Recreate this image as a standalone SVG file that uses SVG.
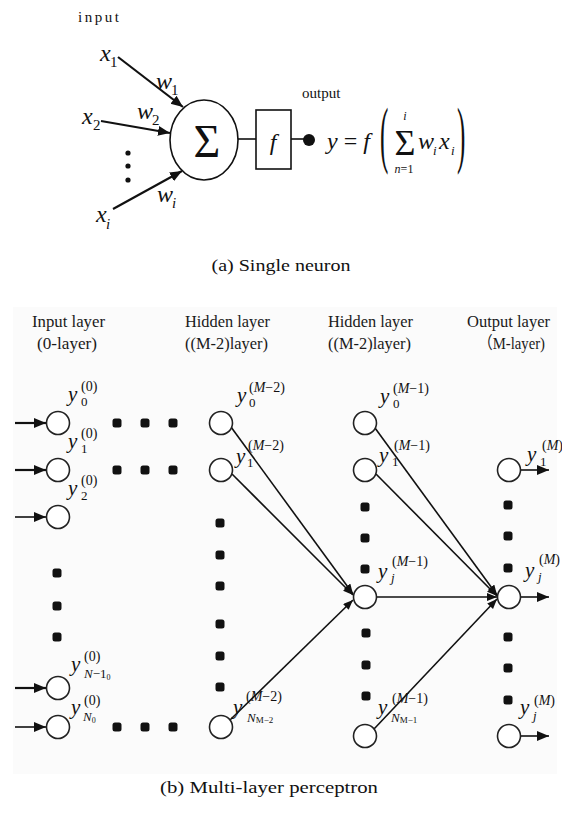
<svg xmlns="http://www.w3.org/2000/svg" width="562" height="818" viewBox="0 0 562 818" font-family="'Liberation Serif', 'DejaVu Serif', serif">
  <style>
    text { font-family: "Liberation Serif", "DejaVu Serif", serif; fill: #111; }
    .it { font-style: italic; }
    .cap { font-size: 17px; text-anchor: middle; }
    .hdr { font-size: 17px; text-anchor: middle; fill: #1a1a1a; }
    .xv { font-size: 24px; font-style: italic; }
    .xs { font-size: 15px; }
    .var { font-size: 21px; font-style: italic; }
    .sup { font-size: 14px; }
    .sub { font-size: 13px; }
    .neuron { fill: #fff; stroke: #222; stroke-width: 1.6; }
    .dot { fill: #111; }
    .wire { stroke: #111; stroke-width: 1.6; fill: none; }
    .thick { stroke: #111; stroke-width: 2.2; fill: none; }
  </style>
  <defs>
    <marker id="headL" markerUnits="userSpaceOnUse" markerWidth="13" markerHeight="11" refX="12" refY="5" orient="auto">
      <path d="M0,0 L12,5 L0,10 Z" fill="#111"/>
    </marker>
    <marker id="headS" markerUnits="userSpaceOnUse" markerWidth="11" markerHeight="9" refX="10" refY="4" orient="auto">
      <path d="M0,0 L10,4 L0,8 Z" fill="#111"/>
    </marker>
  </defs>

  <rect width="562" height="818" fill="#fff"/>

  <!-- (a) single neuron -->
  <text x="78" y="22" font-size="15" letter-spacing="2.5">input</text>

  <g id="connectors-a">
    <line class="thick" x1="118" y1="57" x2="183" y2="107" marker-end="url(#headL)"/>
    <line class="thick" x1="101" y1="121" x2="170" y2="133" marker-end="url(#headL)"/>
    <line class="thick" x1="113" y1="209" x2="182" y2="171" marker-end="url(#headL)"/>
    <line class="wire" x1="238" y1="139" x2="256" y2="139"/>
    <line class="wire" x1="291" y1="139" x2="306" y2="139"/>
  </g>

  <g id="x1">
    <text class="xv" x="100" y="61">x</text>
    <text class="xs" x="110" y="67">1</text>
  </g>
  <g id="x2">
    <text class="xv" x="82" y="124">x</text>
    <text class="xs" x="93" y="130">2</text>
  </g>
  <g id="xi">
    <text class="xv" x="96" y="222">x</text>
    <text class="xs it" x="106" y="229">i</text>
  </g>
  <g id="weights">
    <text class="xv" x="156" y="89">w</text>
    <text class="xs" x="171" y="95">1</text>
    <text class="xv" x="137" y="119">w</text>
    <text class="xs" x="152" y="125">2</text>
    <text class="xv" x="157" y="202">w</text>
    <text class="xs it" x="172" y="208">i</text>
  </g>
  <g id="input-dots">
    <circle class="dot" cx="128" cy="153" r="2.6"/>
    <circle class="dot" cx="128" cy="166" r="2.6"/>
    <circle class="dot" cx="128" cy="180" r="2.6"/>
  </g>

  <g id="sum-node">
    <ellipse cx="204" cy="140" rx="34" ry="40" fill="#fff" stroke="#111" stroke-width="1.6"/>
    <text x="207" y="157" font-size="46" text-anchor="middle">Σ</text>
  </g>
  <g id="activation">
    <rect x="256" y="110" width="35" height="59" fill="#fff" stroke="#111" stroke-width="1.6"/>
    <text x="273" y="150" font-size="24" class="it" text-anchor="middle">f</text>
  </g>
  <g id="output-a">
    <circle cx="309" cy="140" r="6" fill="#111"/>
    <text x="302" y="98" font-size="15">output</text>
  </g>

  <g id="formula">
    <text x="327" y="149" font-size="24"><tspan class="it">y</tspan> = <tspan class="it">f</tspan></text>
    <text transform="translate(380,159) scale(1,3)" font-size="25">(</text>
    <text x="405" y="120" font-size="12" class="it" text-anchor="middle">i</text>
    <text x="405" y="155" font-size="36" text-anchor="middle">Σ</text>
    <text x="404" y="173" font-size="12" text-anchor="middle"><tspan class="it">n</tspan>=1</text>
    <text x="418" y="149" font-size="24" class="it">w</text>
    <text x="433" y="155" font-size="13" class="it">i</text>
    <text x="439" y="149" font-size="24" class="it">x</text>
    <text x="451" y="155" font-size="13" class="it">i</text>
    <text transform="translate(457,159) scale(1,3)" font-size="25">)</text>
  </g>

  <text class="cap" x="281" y="271" textLength="139" lengthAdjust="spacingAndGlyphs">(a) Single neuron</text>

  <!-- (b) multi-layer perceptron -->
  <rect x="13" y="307" width="544" height="467" fill="#fbfbfb"/>

  <g id="headers">
    <text class="hdr" x="68.5" y="327" textLength="73" lengthAdjust="spacingAndGlyphs">Input layer</text>
    <text class="hdr" x="67" y="349" textLength="60" lengthAdjust="spacingAndGlyphs">(0-layer)</text>
    <text class="hdr" x="227.5" y="327" textLength="85" lengthAdjust="spacingAndGlyphs">Hidden layer</text>
    <text class="hdr" x="226.5" y="349" textLength="83" lengthAdjust="spacingAndGlyphs">((M-2)layer)</text>
    <text class="hdr" x="370.5" y="327" textLength="85" lengthAdjust="spacingAndGlyphs">Hidden layer</text>
    <text class="hdr" x="369.5" y="349" textLength="83" lengthAdjust="spacingAndGlyphs">((M-2)layer)</text>
    <text class="hdr" x="508.5" y="327" textLength="83" lengthAdjust="spacingAndGlyphs">Output layer</text>
    <text class="hdr" x="511.5" y="349" textLength="67" lengthAdjust="spacingAndGlyphs" style="font-family: 'Liberation Serif', 'Noto Sans CJK SC', serif">（M-layer)</text>
  </g>

  <g id="connectors-b">
    <!-- inputs -->
    <line class="thick" x1="15" y1="423" x2="46" y2="423" marker-end="url(#headL)"/>
    <line class="thick" x1="15" y1="470" x2="46" y2="470" marker-end="url(#headL)"/>
    <line class="wire" x1="15" y1="517" x2="46" y2="517" marker-end="url(#headL)"/>
    <line class="thick" x1="15" y1="688" x2="46" y2="688" marker-end="url(#headL)"/>
    <line class="wire" x1="15" y1="727" x2="46" y2="727" marker-end="url(#headL)"/>
    <!-- hidden (M-2) to hidden (M-1) -->
    <line class="wire" x1="231" y1="427" x2="353" y2="594" marker-end="url(#headS)"/>
    <line class="wire" x1="232" y1="474" x2="353" y2="595" marker-end="url(#headS)"/>
    <line class="wire" x1="230" y1="720" x2="353" y2="600" marker-end="url(#headS)"/>
    <!-- hidden (M-1) to output -->
    <line class="wire" x1="375" y1="428" x2="497" y2="595" marker-end="url(#headS)"/>
    <line class="wire" x1="376" y1="474" x2="497" y2="596" marker-end="url(#headS)"/>
    <line class="wire" x1="377" y1="597" x2="497" y2="597" marker-end="url(#headS)"/>
    <line class="wire" x1="374" y1="729" x2="497" y2="599" marker-end="url(#headS)"/>
    <!-- outputs -->
    <line class="wire" x1="521" y1="470" x2="549" y2="470" marker-end="url(#headL)"/>
    <line class="wire" x1="521" y1="597" x2="549" y2="597" marker-end="url(#headL)"/>
    <line class="wire" x1="521" y1="736" x2="549" y2="736" marker-end="url(#headL)"/>
  </g>

  <g id="ellipsis-dots" class="dot">
    <rect x="112.5" y="418.5" width="9" height="9" rx="2.5"/>
    <rect x="140.5" y="418.5" width="9" height="9" rx="2.5"/>
    <rect x="168.5" y="418.5" width="9" height="9" rx="2.5"/>
    <rect x="112.5" y="465.5" width="9" height="9" rx="2.5"/>
    <rect x="140.5" y="465.5" width="9" height="9" rx="2.5"/>
    <rect x="168.5" y="465.5" width="9" height="9" rx="2.5"/>
    <rect x="112.5" y="722.5" width="9" height="9" rx="2.5"/>
    <rect x="140.5" y="722.5" width="9" height="9" rx="2.5"/>
    <rect x="168.5" y="722.5" width="9" height="9" rx="2.5"/>
    <rect x="52.5" y="568.5" width="9" height="9" rx="2.5"/>
    <rect x="52.5" y="601.5" width="9" height="9" rx="2.5"/>
    <rect x="52.5" y="632.5" width="9" height="9" rx="2.5"/>
    <rect x="215.5" y="518.5" width="9" height="9" rx="2.5"/>
    <rect x="215.5" y="550.5" width="9" height="9" rx="2.5"/>
    <rect x="215.5" y="581.5" width="9" height="9" rx="2.5"/>
    <rect x="215.5" y="619.5" width="9" height="9" rx="2.5"/>
    <rect x="215.5" y="651.5" width="9" height="9" rx="2.5"/>
    <rect x="215.5" y="682.5" width="9" height="9" rx="2.5"/>
    <rect x="360.5" y="502.5" width="9" height="9" rx="2.5"/>
    <rect x="360.5" y="533.5" width="9" height="9" rx="2.5"/>
    <rect x="360.5" y="564.5" width="9" height="9" rx="2.5"/>
    <rect x="361.5" y="628.5" width="9" height="9" rx="2.5"/>
    <rect x="361.5" y="660.5" width="9" height="9" rx="2.5"/>
    <rect x="361.5" y="691.5" width="9" height="9" rx="2.5"/>
    <rect x="503.5" y="500.5" width="9" height="9" rx="2.5"/>
    <rect x="503.5" y="531.5" width="9" height="9" rx="2.5"/>
    <rect x="503.5" y="563.5" width="9" height="9" rx="2.5"/>
    <rect x="503.5" y="632.5" width="9" height="9" rx="2.5"/>
    <rect x="503.5" y="663.5" width="9" height="9" rx="2.5"/>
    <rect x="503.5" y="695.5" width="9" height="9" rx="2.5"/>
  </g>

  <!-- input layer -->
  <g id="in-0">
    <circle class="neuron" cx="58" cy="423" r="11.5"/>
    <text class="var" x="68" y="401">y</text><text class="sup" x="81" y="391">(0)</text><text class="sub" x="81" y="406">0</text>
  </g>
  <g id="in-1">
    <circle class="neuron" cx="58" cy="470" r="11.5"/>
    <text class="var" x="68" y="448">y</text><text class="sup" x="81" y="438">(0)</text><text class="sub" x="81" y="453">1</text>
  </g>
  <g id="in-2">
    <circle class="neuron" cx="58" cy="517" r="11.5"/>
    <text class="var" x="68" y="495">y</text><text class="sup" x="81" y="485">(0)</text><text class="sub" x="81" y="500">2</text>
  </g>
  <g id="in-n-minus-1">
    <circle class="neuron" cx="58" cy="688" r="11.5"/>
    <text class="var" x="71" y="671">y</text><text class="sup" x="84" y="661">(0)</text>
    <text class="sub" x="84" y="678"><tspan class="it">N</tspan>−1<tspan font-size="8" dy="2">0</tspan></text>
  </g>
  <g id="in-n">
    <circle class="neuron" cx="58" cy="727" r="11.5"/>
    <text class="var" x="71" y="714">y</text><text class="sup" x="84" y="705">(0)</text>
    <text class="sub" x="83" y="721"><tspan class="it">N</tspan><tspan font-size="8" dy="2">0</tspan></text>
  </g>

  <!-- hidden layer M-2 -->
  <g id="h2-0">
    <circle class="neuron" cx="221" cy="423" r="11.5"/>
    <text class="var" x="237" y="402">y</text><text class="sup" x="249" y="392">(<tspan class="it">M</tspan>−2)</text><text class="sub" x="249" y="407">0</text>
  </g>
  <g id="h2-1">
    <circle class="neuron" cx="221" cy="470" r="11.5"/>
    <text class="var" x="236" y="463">y</text><text class="sup" x="248" y="450">(<tspan class="it">M</tspan>−2)</text><text class="sub" x="247" y="467">1</text>
  </g>
  <g id="h2-n">
    <circle class="neuron" cx="221" cy="727" r="11.5"/>
    <text class="var" x="233" y="714">y</text><text class="sup" x="246" y="701">(<tspan class="it">M</tspan>−2)</text>
    <text class="sub" x="247" y="722"><tspan class="it">N</tspan><tspan font-size="9" dy="1">M−2</tspan></text>
  </g>

  <!-- hidden layer M-1 -->
  <g id="h1-0">
    <circle class="neuron" cx="365" cy="423" r="11.5"/>
    <text class="var" x="380" y="403">y</text><text class="sup" x="393" y="393">(<tspan class="it">M</tspan>−1)</text><text class="sub" x="393" y="408">0</text>
  </g>
  <g id="h1-1">
    <circle class="neuron" cx="365" cy="470" r="11.5"/>
    <text class="var" x="379" y="462">y</text><text class="sup" x="394" y="450">(<tspan class="it">M</tspan>−1)</text><text class="sub" x="392" y="466">1</text>
  </g>
  <g id="h1-j">
    <circle class="neuron" cx="365" cy="597" r="11.5"/>
    <text class="var" x="378" y="578">y</text><text class="sup" x="392" y="566">(<tspan class="it">M</tspan>−1)</text><text class="sub it" x="391" y="582">j</text>
  </g>
  <g id="h1-n">
    <circle class="neuron" cx="365" cy="736" r="11.5"/>
    <text class="var" x="378" y="714">y</text><text class="sup" x="392" y="703">(<tspan class="it">M</tspan>−1)</text>
    <text class="sub" x="391" y="722"><tspan class="it">N</tspan><tspan font-size="9" dy="1">M−1</tspan></text>
  </g>

  <!-- output layer -->
  <g id="out-1">
    <circle class="neuron" cx="509" cy="470" r="11.5"/>
    <text class="var" x="527" y="461">y</text><text class="sup" x="542" y="450">(<tspan class="it">M</tspan>)</text><text class="sub" x="540" y="466">1</text>
  </g>
  <g id="out-j">
    <circle class="neuron" cx="509" cy="597" r="11.5"/>
    <text class="var" x="525" y="577">y</text><text class="sup" x="539" y="564">(<tspan class="it">M</tspan>)</text><text class="sub it" x="538" y="581">j</text>
  </g>
  <g id="out-n">
    <circle class="neuron" cx="509" cy="736" r="11.5"/>
    <text class="var" x="520" y="714">y</text><text class="sup" x="534" y="705">(<tspan class="it">M</tspan>)</text><text class="sub it" x="533" y="720">j</text>
  </g>

  <text class="cap" x="269" y="793" textLength="218" lengthAdjust="spacingAndGlyphs">(b) Multi-layer perceptron</text>
</svg>
